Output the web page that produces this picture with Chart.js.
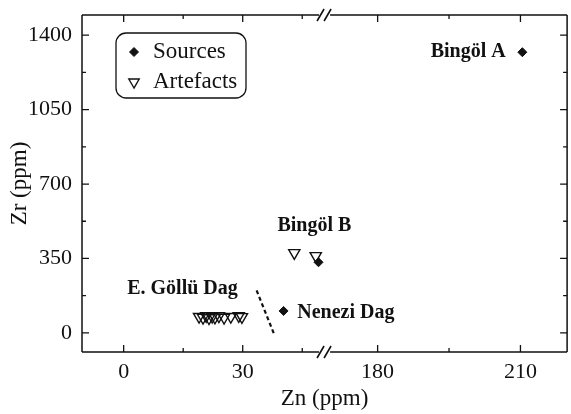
<!DOCTYPE html>
<html>
<head>
<meta charset="utf-8">
<script src="https://cdn.jsdelivr.net/npm/chart.js@4.4.1/dist/chart.umd.min.js"></script>
<style>
  body { margin: 0; background: #fff; overflow: hidden; }
</style>
</head>
<body>
<!-- canvas is a few px wider than the window: chart.js keeps ~5px on the right -->
<canvas id="zrChart" width="575" height="414"></canvas>
<script>
// Zn vs Zr, x axis is broken between ~50 and ~169 ppm
const sourceZn = [210.4, 49.1, 40.3];
const sourceZr = [1320, 332, 103];
const artefactZn = [43, 48.4, 19, 20, 20.8, 21.5, 22.3, 23, 24, 25.3, 27, 29, 29.8];
const artefactZr = [376, 362, 76, 72, 80, 70, 77, 73, 79, 72, 76, 80, 75];
const dividerZn = [33.5, 38];
const dividerZr = [200, -10];
const xMajor = [0, 30, 180, 210];
const xMinor = [15, 45, 195];
const yMajor = [0, 350, 700, 1050, 1400];
const yMinor = [175, 525, 875, 1225];
const siteNames = ['Bingöl A', 'Bingöl B', 'E. Göllü Dag', 'Nenezi Dag'];
const siteZn = [206.9, 38.75, 28.75, 43.75];
const siteZr = [1320, 503, 207, 94];
const siteAlign = ['right', 'left', 'right', 'left'];

const serif = '"Liberation Serif", "Times New Roman", serif';

// linear scale with a gap: left part and right part each take a share of the width
class BrokenScale extends Chart.LinearScale {
  _split() {
    return this.left + (this.right - this.left) * this.options.broken.split;
  }
  getPixelForValue(v) {
    const b = this.options.broken;
    const s = this._split();
    if (v <= b.leftMax) return this.left + (v - this.min) / (b.leftMax - this.min) * (s - this.left);
    return s + (v - b.rightMin) / (this.max - b.rightMin) * (this.right - s);
  }
  getValueForPixel(p) {
    const b = this.options.broken;
    const s = this._split();
    if (p <= s) return this.min + (p - this.left) / (s - this.left) * (b.leftMax - this.min);
    return b.rightMin + (p - s) / (this.right - s) * (this.max - b.rightMin);
  }
}
BrokenScale.id = 'broken';
BrokenScale.defaults = { ticks: { callback: Chart.Ticks.formatters.numeric } };
Chart.register(BrokenScale);

const toPoints = (xs, ys) => xs.map((x, i) => ({ x: x, y: ys[i] }));

const frame = {
  id: 'frame',
  afterDraw(chart) {
    const ctx = chart.ctx;
    const a = chart.chartArea;
    const xs = chart.scales.x, ys = chart.scales.y;
    const brk = xs._split();
    ctx.save();
    ctx.strokeStyle = '#111';
    ctx.lineWidth = 1.5;
    ctx.beginPath();
    ctx.moveTo(a.left, a.top); ctx.lineTo(a.left, a.bottom);
    ctx.moveTo(a.right, a.top); ctx.lineTo(a.right, a.bottom);
    [a.top, a.bottom].forEach(y => {
      ctx.moveTo(a.left, y); ctx.lineTo(brk - 5, y);
      ctx.moveTo(brk + 6, y); ctx.lineTo(a.right, y);
    });
    ctx.stroke();
    // break marks
    ctx.lineWidth = 1.6;
    ctx.beginPath();
    [a.top, a.bottom].forEach(y => {
      [-4, 3].forEach(dx => {
        ctx.moveTo(brk + dx - 3, y + 6);
        ctx.lineTo(brk + dx + 4, y - 6);
      });
    });
    ctx.stroke();
    // inward ticks on all four sides
    ctx.lineWidth = 1.3;
    ctx.beginPath();
    const xt = (v, len) => {
      const px = xs.getPixelForValue(v);
      ctx.moveTo(px, a.bottom); ctx.lineTo(px, a.bottom - len);
      ctx.moveTo(px, a.top); ctx.lineTo(px, a.top + len);
    };
    const yt = (v, len) => {
      const py = ys.getPixelForValue(v);
      ctx.moveTo(a.left, py); ctx.lineTo(a.left + len, py);
      ctx.moveTo(a.right, py); ctx.lineTo(a.right - len, py);
    };
    xMajor.forEach(v => xt(v, 7));
    xMinor.forEach(v => xt(v, 4));
    yMajor.forEach(v => yt(v, 7));
    yMinor.forEach(v => yt(v, 4));
    ctx.stroke();
    ctx.restore();
  }
};

const siteLabels = {
  id: 'siteLabels',
  afterDatasetsDraw(chart) {
    const ctx = chart.ctx;
    ctx.save();
    ctx.fillStyle = '#111';
    ctx.font = 'bold 20px ' + serif;
    ctx.textBaseline = 'middle';
    siteNames.forEach((name, i) => {
      ctx.textAlign = siteAlign[i];
      ctx.fillText(name, chart.scales.x.getPixelForValue(siteZn[i]), chart.scales.y.getPixelForValue(siteZr[i]));
    });
    ctx.restore();
  }
};

const legendBox = {
  id: 'legendBox',
  afterDatasetsDraw(chart) {
    const ctx = chart.ctx;
    const a = chart.chartArea;
    const x = a.left + 34, y = a.top + 18, w = 130, h = 65;
    ctx.save();
    ctx.strokeStyle = '#111';
    ctx.lineWidth = 1.3;
    ctx.beginPath();
    ctx.roundRect(x, y, w, h, 10);
    ctx.stroke();
    ctx.font = '23px ' + serif;
    ctx.textBaseline = 'middle';
    ctx.textAlign = 'left';
    chart.data.datasets.filter(d => d.label).forEach((ds, i) => {
      const cy = y + 19 + i * 30;
      ctx.fillStyle = ds.backgroundColor;
      ctx.strokeStyle = ds.borderColor;
      ctx.lineWidth = ds.borderWidth;
      Chart.helpers.drawPoint(ctx, {
        pointStyle: ds.pointStyle,
        rotation: ds.pointRotation || 0,
        radius: ds.pointStyle === 'triangle' ? 6 : 4.5,
        borderWidth: ds.borderWidth
      }, x + 18, cy);
      ctx.fillStyle = '#111';
      ctx.fillText(ds.label, x + 37, cy);
    });
    ctx.restore();
  }
};

new Chart(document.getElementById('zrChart'), {
  type: 'scatter',
  data: {
    datasets: [
      {
        label: 'Sources',
        data: toPoints(sourceZn, sourceZr),
        pointStyle: 'rectRot',
        pointRadius: 4.5,
        backgroundColor: '#111',
        borderColor: '#111',
        borderWidth: 1
      },
      {
        label: 'Artefacts',
        data: toPoints(artefactZn, artefactZr),
        pointStyle: 'triangle',
        pointRotation: 180,
        pointRadius: 6.5,
        backgroundColor: 'rgba(0,0,0,0)',
        borderColor: '#111',
        borderWidth: 1.4
      },
      {
        data: toPoints(dividerZn, dividerZr),
        showLine: true,
        pointRadius: 0,
        borderColor: '#111',
        borderWidth: 2.2,
        borderDash: [4, 3]
      }
    ]
  },
  options: {
    responsive: false,
    animation: false,
    events: [],
    layout: { padding: { top: 15 } },
    plugins: { legend: { display: false }, tooltip: { enabled: false } },
    scales: {
      x: {
        type: 'broken',
        min: -10.5,
        max: 219.8,
        broken: { leftMax: 50.5, rightMin: 168.75, split: 0.499 },
        afterBuildTicks: s => { s.ticks = xMajor.map(v => ({ value: v })); },
        afterFit: s => { s.height = 62; s.paddingLeft = 0; s.paddingRight = 0; },
        grid: { display: false, drawTicks: false },
        border: { display: false },
        ticks: {
          autoSkip: false,
          maxRotation: 0,
          padding: 7,
          color: '#111',
          font: { family: serif, size: 22 },
          callback: v => String(v)
        },
        title: {
          display: true,
          text: 'Zn (ppm)',
          color: '#111',
          font: { family: serif, size: 23 },
          padding: { bottom: 1 }
        }
      },
      y: {
        min: -90,
        max: 1495,
        afterBuildTicks: s => { s.ticks = yMajor.map(v => ({ value: v })); },
        afterFit: s => { s.width = 82; s.paddingTop = 0; s.paddingBottom = 0; },
        grid: { display: false, drawTicks: false },
        border: { display: false },
        ticks: {
          padding: 10,
          color: '#111',
          font: { family: serif, size: 22 },
          callback: v => String(v)
        },
        title: {
          display: true,
          text: 'Zr (ppm)',
          color: '#111',
          font: { family: serif, size: 23 },
          padding: { top: 6 }
        }
      }
    }
  },
  plugins: [frame, siteLabels, legendBox]
});
</script>
</body>
</html>
